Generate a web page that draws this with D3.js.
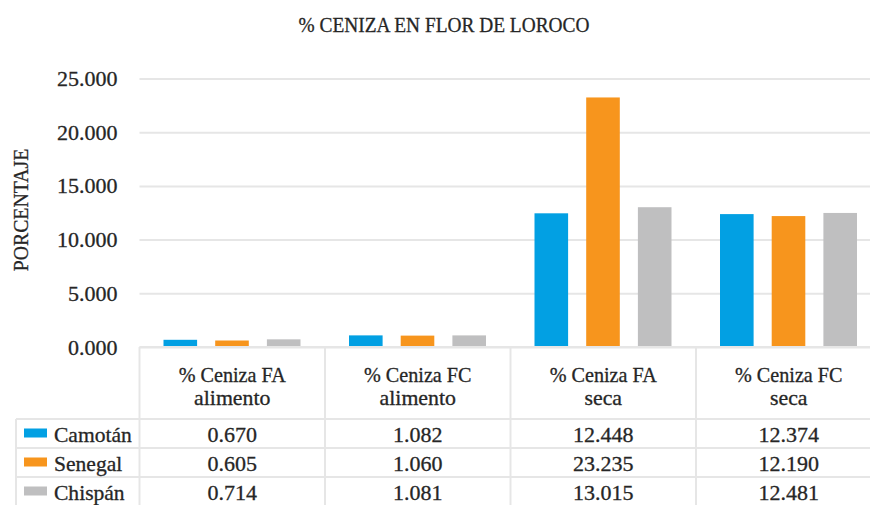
<!DOCTYPE html>
<html>
<head>
<meta charset="utf-8">
<script src="https://cdn.jsdelivr.net/npm/d3@7"></script>
<style>
  body { margin: 0; background: #fff; }
</style>
</head>
<body>
<svg width="870" height="505"></svg>
<script>
// chart data
const categories = [["% Ceniza FA", "alimento"], ["% Ceniza FC", "alimento"], ["% Ceniza FA", "seca"], ["% Ceniza FC", "seca"]];
const seriesNames = ["Camotán", "Senegal", "Chispán"];
const camotan = [0.670, 1.082, 12.448, 12.374];
const senegal = [0.605, 1.060, 23.235, 12.190];
const chispan = [0.714, 1.081, 13.015, 12.481];
const yTicks = [0, 5, 10, 15, 20, 25];
const colors = ["#02a0e3", "#f7951d", "#bfbfc0"];

const values = [camotan, senegal, chispan];

const svg = d3.select("svg");
const fontFam = "\"Liberation Serif\"";
const textColor = "#262626";
const lineColor = "#e6e6e6";

const left = 139.5, step = 185.5;
const right = left + step * categories.length;
const yTop = 78.5, yBase = 347;
const rowH = 29, headerBottom = 419;

const x0 = d3.scaleBand().domain(d3.range(categories.length)).range([left, right]);
const x1 = d3.scaleBand().domain(d3.range(seriesNames.length)).range([24, 161]).paddingInner(0.35);
const y = d3.scaleLinear().domain([0, 25]).range([yBase, yTop]);

// text is a bit heavier in the original, so add a thin stroke
function heavy(sel) {
  return sel.attr("fill", textColor)
    .attr("stroke", textColor)
    .attr("stroke-width", 0.3);
}

// helper for condensed text
function label(g, x, yy, str, size, sx, anchor, rot) {
  return g.append("text")
    .attr("transform", `translate(${x},${yy})` + (rot ? ` rotate(${rot})` : "") + ` scale(${sx},1)`)
    .attr("text-anchor", anchor || "middle")
    .style("font-family", fontFam)
    .style("font-size", size + "px")
    .call(heavy)
    .text(str);
}

// title
label(svg, 444, 32, "% CENIZA EN FLOR DE LOROCO", 22, 0.88);

// y axis label
label(svg, 28, 210, "PORCENTAJE", 22, 0.9, "middle", -90);

// axis + gridlines
const axis = svg.append("g")
  .attr("transform", `translate(${left},0)`)
  .call(d3.axisLeft(y).tickValues(yTicks).tickFormat(d3.format(".3f")).tickSize(-(right - left)).tickPadding(22));
axis.select(".domain").remove();
axis.selectAll(".tick line").attr("stroke", lineColor).attr("stroke-width", 2);
axis.selectAll(".tick text")
  .style("font-family", fontFam)
  .style("font-size", "22px")
  .call(heavy)
  .attr("dy", "0.32em");

// bars
const groups = svg.append("g").selectAll("g")
  .data(categories)
  .join("g")
  .attr("transform", (d, i) => `translate(${x0(i)},0)`);

groups.selectAll("rect")
  .data((d, i) => values.map((s, k) => ({ k, v: s[i] })))
  .join("rect")
  .attr("x", d => x1(d.k))
  .attr("width", x1.bandwidth())
  .attr("y", d => y(d.v))
  .attr("height", d => y(0) - y(d.v))
  .attr("fill", d => colors[d.k]);

// data table
const tableBottom = headerBottom + rowH * seriesNames.length;
const grid = svg.append("g").attr("stroke", lineColor).attr("stroke-width", 2);
grid.append("line").attr("x1", left).attr("x2", right).attr("y1", yBase).attr("y2", yBase);
d3.range(categories.length + 1).forEach(i => {
  const xx = left + i * step;
  grid.append("line").attr("x1", xx).attr("x2", xx).attr("y1", yBase).attr("y2", tableBottom);
});
grid.append("line").attr("x1", 16).attr("x2", 16).attr("y1", headerBottom).attr("y2", tableBottom);
d3.range(seriesNames.length + 1).forEach(r => {
  const yy = headerBottom + r * rowH;
  grid.append("line").attr("x1", 16).attr("x2", right).attr("y1", yy).attr("y2", yy);
});

// header labels
categories.forEach((c, i) => {
  const cx = x0(i) + step / 2;
  label(svg, cx, 381.5, c[0], 21, 0.96);
  label(svg, cx, 405, c[1], 21, 1.04);
});

// rows
seriesNames.forEach((name, r) => {
  const top = headerBottom + r * rowH;
  svg.append("rect")
    .attr("x", 24).attr("y", top + 9.5)
    .attr("width", 23).attr("height", 9)
    .attr("fill", colors[r]);
  label(svg, 54, top + 22.5, name, 22, 0.98, "start");
  values[r].forEach((v, i) => {
    label(svg, x0(i) + step / 2, top + 22.5, d3.format(".3f")(v), 22, 1);
  });
});
</script>
</body>
</html>
